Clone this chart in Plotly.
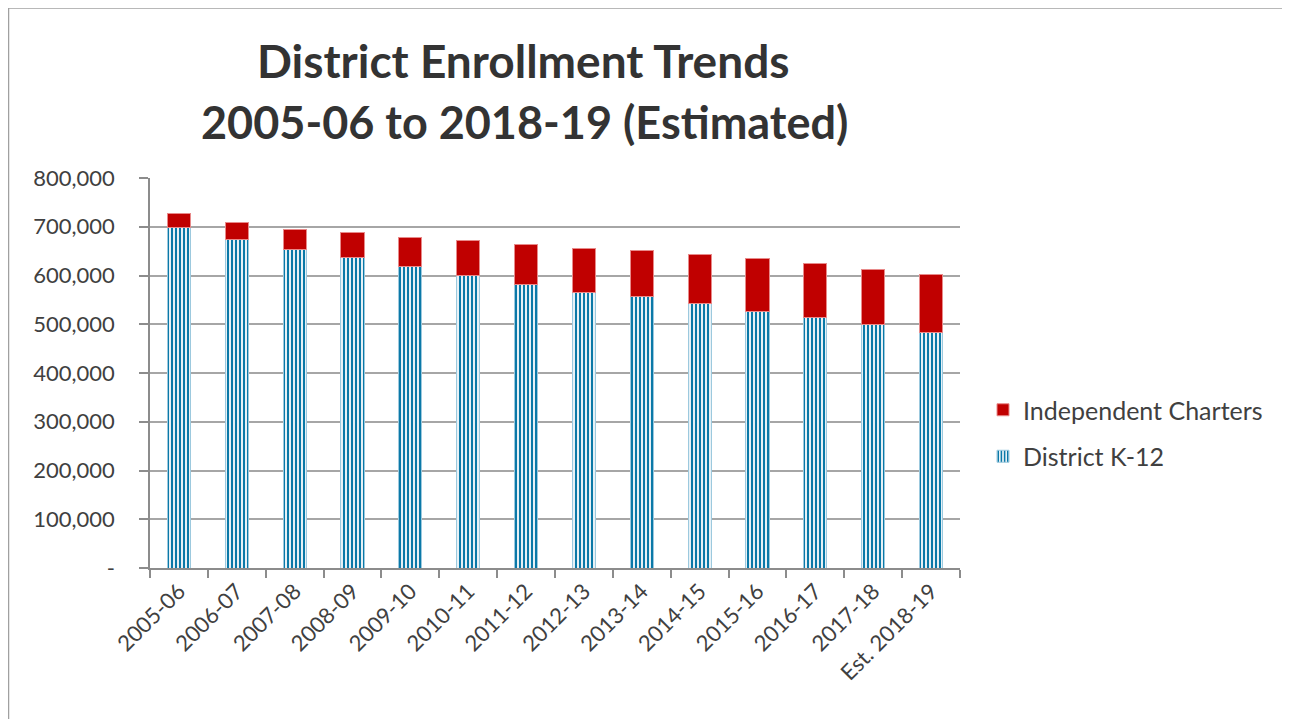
import plotly.graph_objects as go

years = ["2005-06", "2006-07", "2007-08", "2008-09", "2009-10", "2010-11", "2011-12",
         "2012-13", "2013-14", "2014-15", "2015-16", "2016-17", "2017-18", "Est. 2018-19"]
district_k12 = [698000, 674000, 653000, 637000, 618000, 601000, 581000,
                566000, 556000, 543000, 527000, 514000, 500000, 484000]
totals = [727000, 708000, 694000, 688000, 678000, 671000, 664000,
          655000, 651000, 643000, 635000, 625000, 613000, 602000]
charters = [t - d for t, d in zip(totals, district_k12)]

y_tickvals = [0, 100000, 200000, 300000, 400000, 500000, 600000, 700000, 800000]
y_ticktext = ["-", "100,000", "200,000", "300,000", "400,000", "500,000", "600,000", "700,000", "800,000"]

FONT = "Lato, 'Open Sans', sans-serif"
OFF = 8  # page body margin
W, H = 1281, 711
L, T = 150 - OFF, 178 - OFF
pw, ph = 810, 390
R = W - L - pw
B = H - T - ph

fig = go.Figure()
fig.add_trace(go.Bar(
    x=years, y=district_k12, name="District K-12", legendgroup="a", legendrank=2,
    width=0.4,
    marker=dict(color="#0B79A8",
                pattern=dict(shape="|", fgcolor="#0B79A8", bgcolor="white", size=4, solidity=0.55,
                             fgopacity=1, fillmode="replace"),
                line=dict(color="#9cc9de", width=1)),
))
fig.add_trace(go.Bar(
    x=years, y=charters, name="Independent Charters", legendgroup="b", legendrank=1,
    width=0.4,
    marker=dict(color="#C00000", line=dict(color="#e88a8a", width=1)),
))

def px_x(p):
    return (p - OFF - L) / pw

def px_y(p):
    return (H - B - (p - OFF)) / ph

shapes = [
    dict(type="line", xref="paper", yref="paper", x0=px_x(8.5), x1=px_x(8.5), y0=px_y(7.5), y1=px_y(760),
         line=dict(color="#a0a0a0", width=1.5)),
    dict(type="line", xref="paper", yref="paper", x0=px_x(8.5), x1=px_x(1288.3), y0=px_y(8), y1=px_y(8),
         line=dict(color="#a0a0a0", width=1.5)),
    dict(type="line", xref="paper", yref="paper", x0=px_x(1288.3), x1=px_x(1288.3), y0=px_y(7.5), y1=px_y(760),
         line=dict(color="#a0a0a0", width=1.5)),
]

annotations = [
    dict(text="<b>District Enrollment Trends</b>", xref="paper", yref="paper",
         x=px_x(523), y=px_y(61), xanchor="center", yanchor="middle", showarrow=False,
         font=dict(family=FONT, size=46, color="#333333")),
    dict(text="<b>2005-06 to 2018-19 (Estimated)</b>", xref="paper", yref="paper",
         x=px_x(524), y=px_y(122), xanchor="center", yanchor="middle", showarrow=False,
         font=dict(family=FONT, size=45, color="#333333")),
]

fig.update_layout(
    width=W, height=H,
    margin=dict(l=L, r=R, t=T, b=B, autoexpand=False),
    paper_bgcolor="white", plot_bgcolor="white",
    barmode="stack",
    font=dict(family=FONT, color="#404040"),
    shapes=shapes, annotations=annotations,
    legend=dict(x=px_x(983), y=px_y(387), xanchor="left", yanchor="top",
                traceorder="grouped", tracegroupgap=11,
                font=dict(family=FONT, size=25, color="#404040"),
                itemwidth=30),
    showlegend=True,
)
fig.update_yaxes(range=[0, 800000], tickvals=y_tickvals, ticktext=y_ticktext,
                 showgrid=True, gridcolor="#a6a6a6", gridwidth=1.5,
                 showline=True, linecolor="#8c8c8c", linewidth=1.5,
                 ticks="outside", ticklen=9, tickcolor="#8c8c8c", tickwidth=1.5,
                 ticklabelstandoff=20,
                 tickfont=dict(family=FONT, size=22, color="#404040"), zeroline=False)
fig.update_xaxes(type="category", tickangle=-45, showline=True, linecolor="#8c8c8c", linewidth=1.5,
                 ticks="outside", ticklen=8, tickcolor="#8c8c8c", tickwidth=1.5, tickson="boundaries",
                 tickfont=dict(family=FONT, size=22, color="#404040"), showgrid=False)

fig.write_html("out.html")
